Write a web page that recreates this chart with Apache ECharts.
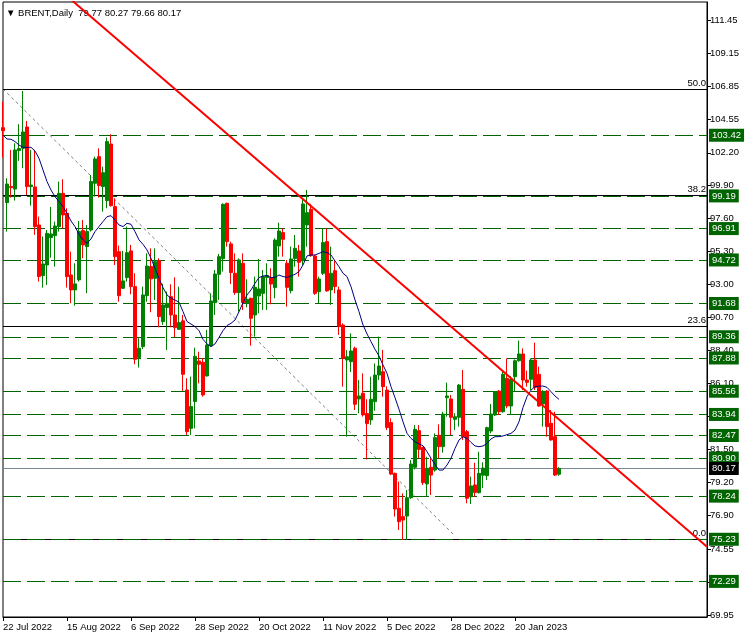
<!DOCTYPE html>
<html><head><meta charset="utf-8">
<script src="https://cdn.jsdelivr.net/npm/echarts@6/dist/echarts.min.js"></script>
<style>html,body{margin:0;padding:0;background:#fff}#c{width:747px;height:638px}</style>
</head><body><div id="c"></div>
<script>
const dates = ['2022-07-22','2022-07-25','2022-07-26','2022-07-27','2022-07-28','2022-07-29','2022-08-01','2022-08-02','2022-08-03','2022-08-04','2022-08-05','2022-08-08','2022-08-09','2022-08-10','2022-08-11','2022-08-12','2022-08-15','2022-08-16','2022-08-17','2022-08-18','2022-08-19','2022-08-22','2022-08-23','2022-08-24','2022-08-25','2022-08-26','2022-08-29','2022-08-30','2022-08-31','2022-09-01','2022-09-02','2022-09-05','2022-09-06','2022-09-07','2022-09-08','2022-09-09','2022-09-12','2022-09-13','2022-09-14','2022-09-15','2022-09-16','2022-09-19','2022-09-20','2022-09-21','2022-09-22','2022-09-23','2022-09-26','2022-09-27','2022-09-28','2022-09-29','2022-09-30','2022-10-03','2022-10-04','2022-10-05','2022-10-06','2022-10-07','2022-10-10','2022-10-11','2022-10-12','2022-10-13','2022-10-14','2022-10-17','2022-10-18','2022-10-19','2022-10-20','2022-10-21','2022-10-24','2022-10-25','2022-10-26','2022-10-27','2022-10-28','2022-10-31','2022-11-01','2022-11-02','2022-11-03','2022-11-04','2022-11-07','2022-11-08','2022-11-09','2022-11-10','2022-11-11','2022-11-14','2022-11-15','2022-11-16','2022-11-17','2022-11-18','2022-11-21','2022-11-22','2022-11-23','2022-11-24','2022-11-25','2022-11-28','2022-11-29','2022-11-30','2022-12-01','2022-12-02','2022-12-05','2022-12-06','2022-12-07','2022-12-08','2022-12-09','2022-12-12','2022-12-13','2022-12-14','2022-12-15','2022-12-16','2022-12-19','2022-12-20','2022-12-21','2022-12-22','2022-12-23','2022-12-27','2022-12-28','2022-12-29','2022-12-30','2023-01-03','2023-01-04','2023-01-05','2023-01-06','2023-01-09','2023-01-10','2023-01-11','2023-01-12','2023-01-13','2023-01-16','2023-01-17','2023-01-18','2023-01-19','2023-01-20','2023-01-23','2023-01-24','2023-01-25','2023-01-26','2023-01-27','2023-01-30','2023-01-31','2023-02-01','2023-02-02','2023-02-03','2023-02-06'];

const opens = [103.95,98.72,99.84,99.67,102.35,102.51,104.00,99.84,99.81,97.16,93.63,94.37,96.28,96.42,97.05,99.37,97.98,93.67,92.63,93.33,96.77,95.65,96.81,100.07,101.93,99.84,98.86,102.81,98.44,95.30,92.74,93.49,95.35,92.86,87.91,88.67,92.23,94.26,93.44,94.67,90.42,91.40,92.16,90.88,89.88,90.47,85.65,82.97,84.84,87.67,87.58,86.63,88.74,91.74,93.72,94.81,98.67,95.84,93.79,92.44,94.49,91.70,92.04,90.88,92.21,92.39,93.49,93.49,92.79,95.70,96.63,94.49,92.58,94.83,95.35,94.67,97.16,98.25,95.00,92.51,93.79,96.00,92.63,93.97,92.63,90.18,87.74,87.62,88.56,85.02,85.42,84.00,83.56,84.83,86.69,86.92,85.64,83.37,79.83,77.39,76.81,76.85,78.13,80.25,82.81,81.64,79.09,80.25,80.06,82.48,81.69,85.11,85.02,83.60,83.74,85.69,82.74,78.20,79.02,78.48,79.70,79.67,82.78,83.90,85.57,84.13,86.46,84.53,86.57,87.69,88.16,86.34,86.39,87.74,86.74,84.67,85.57,83.32,82.39,79.77];
const highs = [105.77,100.42,102.40,102.86,104.19,106.51,104.42,102.40,102.40,97.74,96.35,96.81,98.42,97.40,100.19,100.35,98.33,95.30,94.49,97.44,97.51,97.16,100.65,101.93,102.51,101.23,103.26,103.49,99.02,95.72,95.35,97.05,95.77,93.79,89.26,92.86,95.19,95.53,95.53,94.84,93.05,92.51,93.02,93.51,92.86,90.88,86.47,86.58,88.60,88.32,87.86,89.84,92.39,94.02,95.14,98.67,98.72,96.00,95.18,94.83,95.18,93.37,92.09,93.56,94.79,94.02,94.49,94.14,96.23,97.32,96.93,94.72,95.65,96.46,95.77,98.97,99.60,98.63,95.07,93.56,96.93,96.93,95.65,94.72,92.86,90.30,88.44,89.60,88.67,86.35,86.81,85.00,86.58,87.50,89.37,88.44,85.90,83.67,79.88,79.25,78.43,78.67,80.76,83.20,83.20,81.69,80.99,80.88,82.62,83.25,84.13,86.16,85.30,84.02,86.06,87.04,82.85,79.60,80.57,81.34,80.60,83.09,84.67,85.57,85.64,87.04,87.85,86.62,87.78,89.09,88.55,86.99,87.85,88.95,87.27,85.64,85.64,84.25,84.13,80.27];
const lows = [101.86,96.70,99.07,98.86,101.63,101.12,99.26,98.51,96.47,93.21,92.79,92.98,94.88,94.26,96.70,96.93,92.79,91.70,91.53,93.21,94.84,92.40,96.70,99.14,99.07,98.09,98.33,98.44,94.37,91.81,92.70,93.21,92.33,87.44,87.21,88.51,91.81,91.07,91.93,90.02,90.19,88.44,90.02,89.33,89.84,85.58,82.51,82.51,82.97,86.11,85.18,86.58,88.67,90.88,91.93,93.91,95.65,93.04,92.28,91.11,91.23,91.42,88.74,89.37,91.00,91.23,91.23,91.63,92.04,94.95,94.95,91.46,92.39,94.25,93.56,94.37,95.65,94.95,92.28,91.70,93.67,92.51,91.58,92.39,89.49,85.88,82.39,86.90,84.25,84.02,83.79,80.80,83.21,84.20,86.34,85.18,82.85,79.71,76.81,75.88,75.18,75.18,78.04,80.11,80.88,79.02,78.25,78.32,79.95,80.88,81.27,83.78,82.50,82.85,83.09,82.16,77.74,77.69,78.20,78.43,78.80,79.37,82.62,83.83,83.90,84.06,84.37,83.90,85.53,87.62,85.64,85.88,85.64,85.64,84.48,83.09,82.39,82.11,79.64,79.66];
const closes = [103.74,100.02,99.77,102.40,102.49,103.65,99.84,99.95,97.05,93.56,94.44,96.58,96.53,97.09,99.37,97.86,93.56,92.63,93.05,96.70,95.77,96.70,100.19,101.77,99.91,100.81,102.98,98.51,94.95,92.23,93.26,95.23,92.86,87.79,88.56,92.28,94.30,93.40,94.60,90.77,91.58,91.70,90.88,90.00,90.35,86.74,82.74,84.49,88.00,87.44,85.30,88.79,91.86,93.74,94.95,98.60,96.00,93.84,92.44,94.72,91.74,91.97,90.65,92.81,92.70,93.56,93.63,93.04,96.11,96.74,96.16,92.81,94.79,95.53,94.56,98.63,98.02,95.02,92.39,93.39,95.93,92.56,93.79,92.86,90.07,87.86,87.97,88.37,84.65,85.23,83.91,83.30,85.00,86.69,87.32,85.88,83.02,79.78,77.34,76.46,76.57,78.13,80.48,82.90,81.50,79.18,80.18,79.71,82.32,81.69,83.97,85.23,83.74,83.78,85.99,82.39,78.09,78.95,78.50,79.83,80.20,83.02,83.97,85.53,84.13,86.74,84.53,86.39,87.69,88.16,86.34,86.18,87.74,85.83,84.53,85.53,83.09,82.16,79.71,80.17];

// moving average line, one value per bar
const maValues = [103.44,103.16,103.14,102.98,102.74,102.58,102.58,102.58,102.32,101.81,101.00,100.19,99.60,99.14,98.79,98.44,97.98,97.44,97.05,96.51,96.12,95.88,96.19,96.70,97.05,97.40,97.74,97.81,97.51,97.16,97.05,97.28,97.21,96.70,96.12,95.81,95.42,94.84,94.14,93.44,92.79,92.28,92.05,91.93,91.77,91.12,90.42,90.25,90.07,89.79,89.18,88.86,88.67,88.86,89.32,89.79,90.14,90.30,90.53,91.11,91.74,92.28,92.63,93.09,93.49,93.60,93.63,93.49,93.51,93.67,93.56,93.51,93.60,93.72,93.90,94.37,95.00,95.07,95.07,95.18,95.30,95.23,95.07,94.65,94.25,93.79,93.56,92.86,91.93,91.11,90.19,89.56,89.02,88.49,88.02,87.39,86.81,85.88,85.11,84.30,83.43,82.62,82.27,82.04,81.88,81.76,81.34,80.88,80.46,80.06,80.06,80.41,80.88,81.57,82.16,82.39,82.27,81.99,81.74,81.69,81.74,81.92,82.23,82.39,82.39,82.44,82.53,82.62,82.85,83.43,84.43,85.18,85.64,85.88,85.92,85.92,85.83,85.53,85.23,84.99];

const levels = [103.42,99.19,96.91,94.72,91.68,89.36,87.88,85.56,83.94,82.47,80.90,78.24,75.23,72.29];
const fibValues = [106.65,99.23,90.06,75.23];
const fibNames = ['50.0','38.2','23.6','0.0'];
const lastPrice = 80.17;
const trendLine = [[0,116.97],[176,74.70]];
const dottedLine = [[0,106.65],[113,75.46]];
const yTicks = [111.45,109.15,106.85,104.55,102.20,99.90,97.60,95.30,93.00,90.70,88.40,86.10,83.80,81.50,79.20,76.90,74.55,72.25,69.95];
const xTickLabels = ['22 Jul 2022','15 Aug 2022','6 Sep 2022','28 Sep 2022','20 Oct 2022','11 Nov 2022','5 Dec 2022','28 Dec 2022','20 Jan 2023'];

const MON = ['Jan','Feb','Mar','Apr','May','Jun','Jul','Aug','Sep','Oct','Nov','Dec'];
const fmtDate = s => { if (!s) return ''; const p = s.split('-'); return (+p[2]) + ' ' + MON[+p[1]-1] + ' ' + p[0]; };
const slots = 177;
const cats = dates.concat(new Array(slots - dates.length).fill(''));
const showIdx = new Set();
dates.forEach((d,i)=>{ if (xTickLabels.includes(fmtDate(d))) showIdx.add(i); });

const FONT = 'Liberation Sans';
const GREEN = '#006400';
const candle = dates.map((d,i)=>[opens[i], closes[i], lows[i], highs[i]]);
const last = dates.length - 1;

const markData = [];
fibValues.forEach((v,i)=>markData.push({yAxis:v, lineStyle:{color:'#000', type:'solid', width:1},
  label:{show:true, position:'insideEndTop', formatter:fibNames[i], color:'#000', fontSize:9.5, fontFamily:FONT, distance:[1,1]}}));
levels.forEach(v=>markData.push({yAxis:v, lineStyle:{color:GREEN, type:[18,6], width:1},
  label:{show:true, position:'end', formatter:v.toFixed(2), color:'#fff', backgroundColor:GREEN, padding:[2,3,1,3], fontSize:9.5, fontFamily:FONT, distance:2}}));
markData.push({yAxis:lastPrice, lineStyle:{color:'#778899', type:'solid', width:1},
  label:{show:true, position:'end', formatter:lastPrice.toFixed(2), color:'#fff', backgroundColor:'#000', padding:[2,3,1,3], fontSize:9.5, fontFamily:FONT, distance:2}});

const chart = echarts.init(document.getElementById('c'), null, {renderer:'canvas'});
chart.setOption({
  animation:false,
  backgroundColor:'#fff',
  title:{text:'▼ BRENT,Daily  ' + [opens[last],highs[last],lows[last],closes[last]].map(v=>v.toFixed(2)).join(' '),
    left:1, top:3, textStyle:{fontSize:9.5, fontWeight:'normal', color:'#000', fontFamily:FONT}},
  grid:{left:3, right:40, top:2, bottom:21, show:true, borderColor:'#000', borderWidth:1, backgroundColor:'transparent'},
  xAxis:{type:'category', data:cats, boundaryGap:false,
    axisLine:{show:true, lineStyle:{color:'#000'}},
    axisTick:{show:true, interval:(i)=>showIdx.has(i), length:4, lineStyle:{color:'#000'}},
    axisLabel:{interval:(i)=>showIdx.has(i), formatter:(v)=>fmtDate(v), align:'left', margin:5, color:'#000', fontSize:9.5, fontFamily:FONT},
    splitLine:{show:false}},
  yAxis:{type:'value', position:'right', min:69.806, max:112.72, scale:true,
    axisLine:{show:true, lineStyle:{color:'#000'}},
    axisTick:{show:true, customValues:yTicks, length:4, lineStyle:{color:'#000'}},
    axisLabel:{show:true, customValues:yTicks, formatter:(v)=>v.toFixed(2), margin:3, color:'#000', fontSize:9.5, fontFamily:FONT},
    splitLine:{show:false}},
  series:[
    {type:'line', name:'levels', data:[], z:3, markLine:{symbol:['none','none'], silent:true, animation:false, data:markData}},
    {type:'line', name:'dotted', data:dottedLine, showSymbol:false, z:4, lineStyle:{color:'#808080', width:1, type:[3,3]}},
    {type:'candlestick', name:'BRENT', data:candle, barWidth:3, z:5,
      itemStyle:{color:'#008000', color0:'#ff0000', borderColor:'#008000', borderColor0:'#ff0000', borderWidth:1}},
    {type:'line', name:'MA', data:maValues, showSymbol:false, z:6, lineStyle:{color:'#000080', width:1}},
    {type:'line', name:'trend', data:trendLine, showSymbol:false, z:7, lineStyle:{color:'#ff0000', width:2}}
  ]
});
</script></body></html>
